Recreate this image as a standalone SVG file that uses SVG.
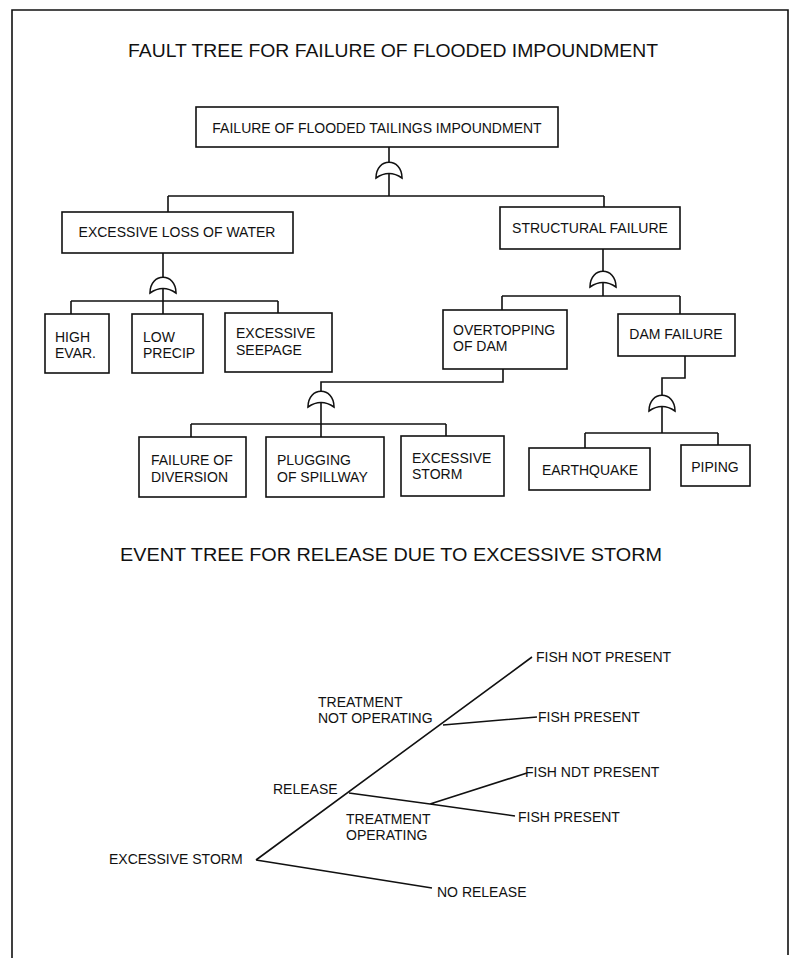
<svg xmlns="http://www.w3.org/2000/svg" width="796" height="960" viewBox="0 0 796 960">
<style>
text{font-family:"Liberation Sans",Arial,sans-serif;font-size:14px;fill:#111}
.title{font-size:19px}
.box{fill:#fff;stroke:#111;stroke-width:1.6}
.ln{fill:none;stroke:#111;stroke-width:1.6}
.mid{text-anchor:middle}
</style>
<defs>
<path id="orgate" d="M-13,16 C-13,-5 13,-5 13,16 Q0,7 -13,16 Z" fill="#fff" stroke="#111" stroke-width="1.6"/>
</defs>
<rect width="796" height="960" fill="#fff"/>
<path class="ln" d="M12,958 L12,10 L788,10 L788,955" stroke-width="2.2"/>
<text class="title" x="128" y="57" textLength="530" lengthAdjust="spacingAndGlyphs">FAULT TREE FOR FAILURE OF FLOODED IMPOUNDMENT</text>
<text class="title" x="120" y="561" textLength="542" lengthAdjust="spacingAndGlyphs">EVENT TREE FOR RELEASE DUE TO EXCESSIVE STORM</text>
<g id="connectors">
<path class="ln" d="M389,147 V196 M168,196 H604 M168,196 V212 M604,196 V207"/>
<path class="ln" d="M163,253 V314 M71,301 H278 M71,301 V314 M278,301 V313"/>
<path class="ln" d="M603,249 V296 M502,296 H680 M502,296 V310 M680,296 V314"/>
<path class="ln" d="M503,369 V382 H321 V437 M191,424 H446 M191,424 V437 M446,424 V436"/>
<path class="ln" d="M685,356 V378 H662 V433 M585,433 H718 M585,433 V448 M718,433 V445"/>
<path class="ln" d="M256,860 L532,657 M443,725 L537,717 M349,793 L430,804 L515,816 M430,804 L527,773 M256,860 L432,888"/>
</g>
<g id="gates">
<use href="#orgate" x="389" y="162"/>
<use href="#orgate" x="163" y="277"/>
<use href="#orgate" x="603" y="271"/>
<use href="#orgate" x="321" y="391"/>
<use href="#orgate" x="662" y="395"/>
</g>
<g id="n-top"><rect class="box" x="196" y="107" width="362" height="40"/><text class="mid" x="377" y="133">FAILURE OF FLOODED TAILINGS IMPOUNDMENT</text></g>
<g id="n-loss"><rect class="box" x="62" y="212" width="231" height="41"/><text class="mid" x="177" y="237">EXCESSIVE LOSS OF WATER</text></g>
<g id="n-struct"><rect class="box" x="500" y="207" width="180" height="42"/><text class="mid" x="590" y="233">STRUCTURAL FAILURE</text></g>
<g id="n-evap"><rect class="box" x="45" y="314" width="64" height="59"/><text x="55" y="342">HIGH</text><text x="55" y="358">EVAR.</text></g>
<g id="n-precip"><rect class="box" x="132" y="314" width="71" height="59"/><text x="143" y="342">LOW</text><text x="143" y="358">PRECIP</text></g>
<g id="n-seep"><rect class="box" x="225" y="313" width="107" height="59"/><text x="236" y="338">EXCESSIVE</text><text x="236" y="355">SEEPAGE</text></g>
<g id="n-over"><rect class="box" x="443" y="310" width="124" height="59"/><text x="453" y="335">OVERTOPPING</text><text x="453" y="351">OF DAM</text></g>
<g id="n-dam"><rect class="box" x="618" y="314" width="117" height="42"/><text class="mid" x="676" y="339">DAM FAILURE</text></g>
<g id="n-div"><rect class="box" x="139" y="437" width="107" height="60"/><text x="151" y="465">FAILURE OF</text><text x="151" y="482">DIVERSION</text></g>
<g id="n-plug"><rect class="box" x="266" y="437" width="118" height="60"/><text x="277" y="465">PLUGGING</text><text x="277" y="482">OF SPILLWAY</text></g>
<g id="n-storm"><rect class="box" x="401" y="436" width="103" height="60"/><text x="412" y="463">EXCESSIVE</text><text x="412" y="479">STORM</text></g>
<g id="n-quake"><rect class="box" x="529" y="448" width="121" height="42"/><text class="mid" x="590" y="475">EARTHQUAKE</text></g>
<g id="n-pipe"><rect class="box" x="681" y="445" width="69" height="41"/><text class="mid" x="715" y="472">PIPING</text></g>
<g id="event-labels">
<text x="109" y="864">EXCESSIVE STORM</text>
<text x="273" y="794">RELEASE</text>
<text x="318" y="707">TREATMENT</text>
<text x="318" y="723">NOT OPERATING</text>
<text x="346" y="824">TREATMENT</text>
<text x="346" y="840">OPERATING</text>
<text x="536" y="662">FISH NOT PRESENT</text>
<text x="538" y="722">FISH PRESENT</text>
<text x="525" y="777">FISH NDT PRESENT</text>
<text x="518" y="822">FISH PRESENT</text>
<text x="437" y="897">NO RELEASE</text>
</g>
</svg>
